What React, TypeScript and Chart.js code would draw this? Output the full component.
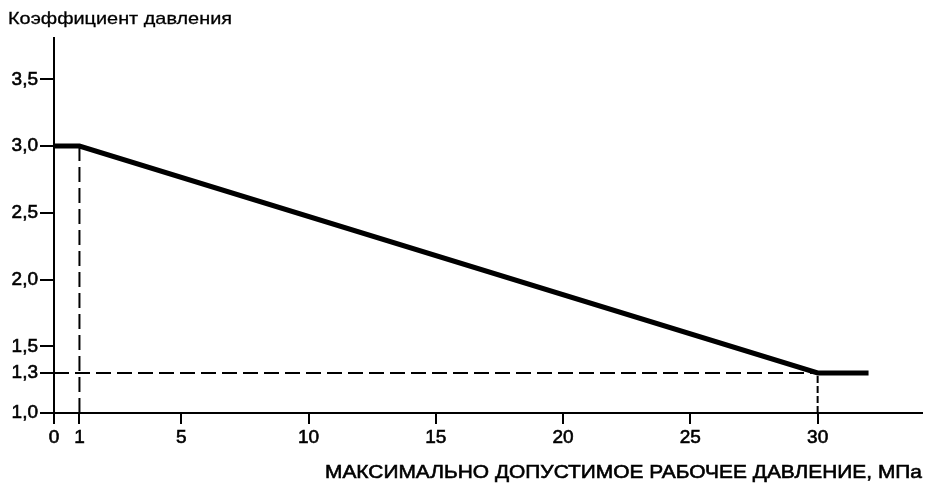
import React, { useEffect, useRef } from "react";
import { Chart, registerables } from "chart.js";

Chart.register(...registerables);

const yTitle = "Коэффициент давления";
const xTitle = "МАКСИМАЛЬНО ДОПУСТИМОЕ РАБОЧЕЕ ДАВЛЕНИЕ, МПа";

const xTickValues = [0, 1, 5, 10, 15, 20, 25, 30];
const yTickValues = [1.0, 1.3, 1.5, 2.0, 2.5, 3.0, 3.5];

// main curve
const curveX = [0, 1, 30, 32];
const curveY = [3.0, 3.0, 1.3, 1.3];

// dashed helper lines
const guide1X = [1, 1];
const guide1Y = [1.0, 3.0];
const guide2X = [0, 30];
const guide2Y = [1.3, 1.3];
const guide3X = [30, 30];
const guide3Y = [1.0, 1.3];

const X_MIN = 0;
const X_MAX = 34.1;
const Y_MIN = 1.0;
const Y_MAX = 3.81;

const pts = (xs: number[], ys: number[]) => xs.map((x, i) => ({ x, y: ys[i] }));

const FONT = "'Liberation Sans', Arial, sans-serif";

function drawFitted(
  ctx: CanvasRenderingContext2D,
  text: string,
  font: string,
  anchorX: number,
  baseline: number,
  targetWidth: number,
  align: "left" | "right",
  stroke: number
) {
  ctx.save();
  ctx.font = font;
  ctx.textAlign = "left";
  ctx.textBaseline = "alphabetic";
  const w = ctx.measureText(text).width;
  const sx = targetWidth / w;
  const left = align === "left" ? anchorX : anchorX - targetWidth;
  ctx.translate(left, baseline);
  ctx.scale(sx, 1);
  ctx.fillStyle = "#000";
  ctx.fillText(text, 0, 0);
  if (stroke > 0) {
    ctx.strokeStyle = "#000";
    ctx.lineWidth = stroke;
    ctx.strokeText(text, 0, 0);
  }
  ctx.restore();
}

export default function App() {
  const ref = useRef<HTMLCanvasElement | null>(null);

  useEffect(() => {
    if (!ref.current) return;
    const titles = {
      id: "titles",
      afterDraw(chart: any) {
        const ctx = chart.ctx;
        drawFitted(ctx, yTitle, `17px ${FONT}`, 8, 24, 224, "left", 0.3);
        drawFitted(ctx, xTitle, `19px ${FONT}`, chart.chartArea.right, 478, 597, "right", 0.6);
      },
    };
    const dashed = (xs: number[], ys: number[], dash: number[]) => ({
      data: pts(xs, ys),
      showLine: true,
      borderColor: "#000",
      borderWidth: 2,
      borderDash: dash,
      pointRadius: 0,
      clip: false,
    });
    const chart = new Chart(ref.current, {
      type: "scatter",
      data: {
        datasets: [
          {
            data: pts(curveX, curveY),
            showLine: true,
            borderColor: "#000",
            borderWidth: 5,
            pointRadius: 0,
            borderCapStyle: "butt",
            borderJoinStyle: "miter",
            clip: false,
          } as any,
          dashed(guide1X, guide1Y, [15, 6]),
          dashed(guide2X, guide2Y, [15, 6]),
          dashed(guide3X, guide3Y, [7, 3]),
        ],
      },
      options: {
        animation: false,
        responsive: false,
        layout: { padding: { top: 38, right: 3, left: 0, bottom: 0 } },
        plugins: {
          legend: { display: false },
          tooltip: { enabled: false },
          title: { display: false },
        },
        scales: {
          x: {
            type: "linear",
            min: X_MIN,
            max: X_MAX,
            afterBuildTicks: (s: any) => {
              s.ticks = xTickValues.map((v) => ({ value: v }));
            },
            afterFit: (s: any) => {
              s.height = 72;
            },
            ticks: {
              color: "#000",
              font: { family: FONT, size: 19 },
              padding: 2,
              maxRotation: 0,
              autoSkip: false,
              textStrokeColor: "#000",
              textStrokeWidth: 0.6,
              callback: (v: any) => String(v),
            },
            grid: {
              drawOnChartArea: false,
              drawTicks: true,
              tickLength: 11,
              color: "#000",
              lineWidth: 2,
            },
            border: { display: true, color: "#000", width: 2 },
          },
          y: {
            type: "linear",
            min: Y_MIN,
            max: Y_MAX,
            afterBuildTicks: (s: any) => {
              s.ticks = yTickValues.map((v) => ({ value: v }));
            },
            afterFit: (s: any) => {
              s.width = 54;
            },
            ticks: {
              color: "#000",
              font: { family: FONT, size: 19 },
              padding: 2,
              autoSkip: false,
              textStrokeColor: "#000",
              textStrokeWidth: 0.6,
              callback: (v: any) => Number(v).toFixed(1).replace(".", ","),
            },
            grid: {
              drawOnChartArea: false,
              drawTicks: true,
              tickLength: 14,
              color: "#000",
              lineWidth: 2,
            },
            border: { display: true, color: "#000", width: 2 },
          },
        },
      },
      plugins: [titles],
    } as any);
    return () => chart.destroy();
  }, []);

  return (
    <div style={{ position: "absolute", left: 0, top: 0, width: 925, height: 485, background: "#fff" }}>
      <canvas ref={ref} width={925} height={485} />
    </div>
  );
}
